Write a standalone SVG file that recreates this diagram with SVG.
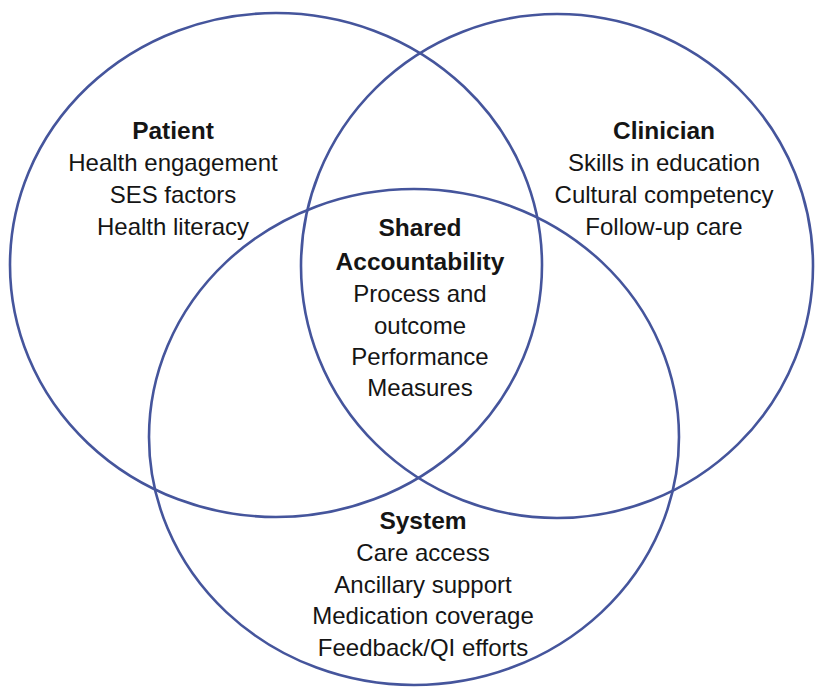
<svg xmlns="http://www.w3.org/2000/svg" width="815" height="690" viewBox="0 0 815 690">
<style>
.c{fill:none;stroke:#45559c;stroke-width:2.6}
text{font-family:"Liberation Sans",Arial,sans-serif;font-size:24px;fill:#151515;text-anchor:middle}
.b{font-weight:bold;font-size:24.5px}
</style>
<rect width="815" height="690" fill="#ffffff"/>
<g id="connectors"></g>
<g id="patient">
<ellipse class="c" cx="276" cy="265" rx="266" ry="252"/>
<text class="b" x="173" y="139">Patient</text>
<text x="173" y="171">Health engagement</text>
<text x="173" y="203">SES factors</text>
<text x="173" y="235">Health literacy</text>
</g>
<g id="clinician">
<ellipse class="c" cx="557" cy="266" rx="256" ry="252"/>
<text class="b" x="664" y="139">Clinician</text>
<text x="664" y="171">Skills in education</text>
<text x="664" y="203">Cultural competency</text>
<text x="664" y="235">Follow-up care</text>
</g>
<g id="system">
<ellipse class="c" cx="414" cy="437" rx="265" ry="248"/>
<text class="b" x="423" y="529">System</text>
<text x="423" y="561">Care access</text>
<text x="423" y="593">Ancillary support</text>
<text x="423" y="624">Medication coverage</text>
<text x="423" y="656">Feedback/QI efforts</text>
</g>
<g id="shared">
<text class="b" x="420" y="236">Shared</text>
<text class="b" x="420" y="270">Accountability</text>
<text x="420" y="302">Process and</text>
<text x="420" y="334">outcome</text>
<text x="420" y="365">Performance</text>
<text x="420" y="396">Measures</text>
</g>
</svg>
